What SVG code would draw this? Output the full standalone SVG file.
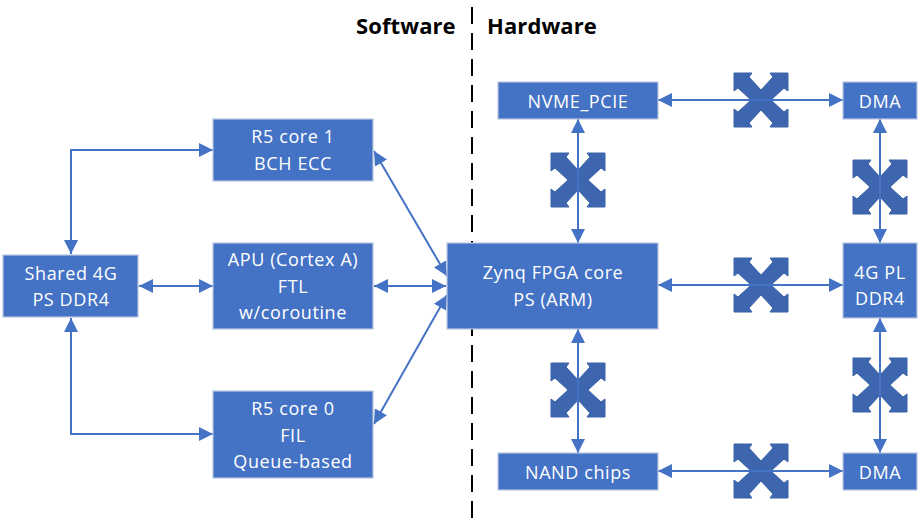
<svg xmlns="http://www.w3.org/2000/svg" width="923" height="531" viewBox="0 0 923 531">
<style>
.n{fill:#4472c4;stroke:#b9c6e2;stroke-width:1.2}
.t{font-family:"Open Sans","Noto Sans",sans-serif;font-size:18px;fill:#fff;text-anchor:middle;letter-spacing:.6px}
.h{font-family:"Open Sans","Noto Sans",sans-serif;font-size:22px;font-weight:700;fill:#000;letter-spacing:.1px}
.c{fill:none;stroke:#4472c4;stroke-width:2;marker-start:url(#a);marker-end:url(#a)}
.x{fill:#3d66ae;stroke:#3a62a8;stroke-width:1}
</style>
<defs>
<marker id="a" viewBox="0 0 14 14" refX="14" refY="7" markerWidth="14" markerHeight="14" markerUnits="userSpaceOnUse" orient="auto-start-reverse"><path d="M0 0L14 7L0 14Z" fill="#4472c4"/></marker>
<g id="x"><path class="x" d="M0-10L-12-23L-9-27L-27-27L-27-9L-23-12L-10 0L-23 12L-27 9L-27 27L-9 27L-12 23L0 10L12 23L9 27L27 27L27 9L23 12L10 0L23-12L27-9L27-27L9-27L12-23Z"/></g>
</defs>
<g id="switches">
<use href="#x" x="761" y="100"/>
<use href="#x" x="880" y="187"/>
<use href="#x" x="578" y="180"/>
<use href="#x" x="761" y="285"/>
<use href="#x" x="880" y="385"/>
<use href="#x" x="578" y="390"/>
<use href="#x" x="761" y="471"/>
</g>
<g id="connectors">
<path class="c" d="M213 150H71V254"/>
<path class="c" d="M139 286H213"/>
<path class="c" d="M71 318V434H213"/>
<path class="c" d="M374 151L447 276"/>
<path class="c" d="M374 286H446"/>
<path class="c" d="M374 424L447 295"/>
<path class="c" d="M658 100H843"/>
<path class="c" d="M578 119V243"/>
<path class="c" d="M880 119V243"/>
<path class="c" d="M658 285H843"/>
<path class="c" d="M578 329V453"/>
<path class="c" d="M880 318V453"/>
<path class="c" d="M658 471H843"/>
<path d="M472 7V521" fill="none" stroke="#000" stroke-width="2" stroke-dasharray="17 9"/>
</g>
<g id="software-label"><text class="h" x="356" y="34">Software</text></g>
<g id="hardware-label"><text class="h" x="487" y="34">Hardware</text></g>
<g id="shared"><rect class="n" x="3" y="255" width="135" height="62"/><text class="t" x="71" y="280">Shared 4G</text><text class="t" x="71" y="306">PS DDR4</text></g>
<g id="r5-1"><rect class="n" x="213" y="119" width="160" height="62"/><text class="t" x="293" y="143">R5 core 1</text><text class="t" x="293" y="170">BCH ECC</text></g>
<g id="apu"><rect class="n" x="213" y="243" width="160" height="86"/><text class="t" x="293" y="266">APU (Cortex A)</text><text class="t" x="293" y="293">FTL</text><text class="t" x="293" y="319">w/coroutine</text></g>
<g id="r5-0"><rect class="n" x="213" y="391" width="160" height="87"/><text class="t" x="293" y="415">R5 core 0</text><text class="t" x="293" y="442">FIL</text><text class="t" x="293" y="468">Queue-based</text></g>
<g id="zynq"><rect class="n" x="447" y="243" width="211" height="86"/><text class="t" x="553" y="279">Zynq FPGA core</text><text class="t" x="553" y="306">PS (ARM)</text></g>
<g id="nvme"><rect class="n" x="498" y="82" width="160" height="37"/><text class="t" x="578" y="108">NVME_PCIE</text></g>
<g id="nand"><rect class="n" x="498" y="453" width="160" height="37"/><text class="t" x="578" y="479">NAND chips</text></g>
<g id="dma-top"><rect class="n" x="843" y="82" width="74" height="37"/><text class="t" x="880" y="108">DMA</text></g>
<g id="pl"><rect class="n" x="843" y="243" width="74" height="75"/><text class="t" x="880" y="279">4G PL</text><text class="t" x="880" y="305">DDR4</text></g>
<g id="dma-bottom"><rect class="n" x="843" y="453" width="74" height="37"/><text class="t" x="880" y="479">DMA</text></g>
</svg>
